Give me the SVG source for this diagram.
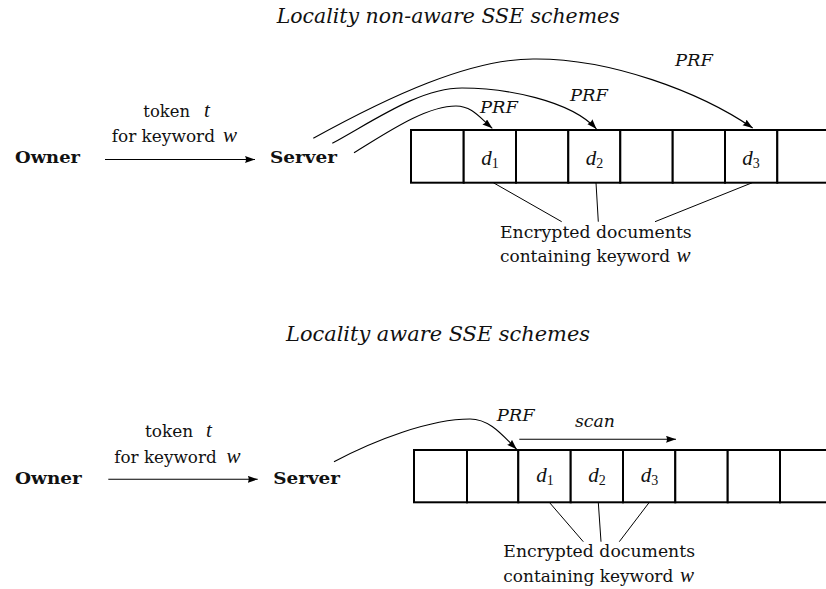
<svg xmlns="http://www.w3.org/2000/svg" width="826" height="589" viewBox="0 0 826 589">
<style>
.txt{font-family:"DejaVu Serif","Liberation Serif",serif;font-size:17px;fill:#111}
.bold{font-family:"DejaVu Serif","Liberation Serif",serif;font-size:17px;font-weight:bold;fill:#111}
.ital{font-family:"DejaVu Serif","Liberation Serif",serif;font-size:17px;font-style:italic;fill:#111}
.head{font-family:"DejaVu Serif","Liberation Serif",serif;font-size:19.5px;font-style:italic;fill:#111}
.math{font-family:"Liberation Serif","DejaVu Serif",serif;font-size:21px;font-style:italic;fill:#111}
.sub{font-family:"Liberation Serif","DejaVu Serif",serif;font-size:14px;font-style:normal}
.cell{fill:#fff;stroke:#000;stroke-width:2}
.thin{fill:none;stroke:#000;stroke-width:1}
.arr{fill:none;stroke:#000;stroke-width:1.1;marker-end:url(#ah)}
</style>
<defs>
<marker id="ah" markerUnits="userSpaceOnUse" markerWidth="11" markerHeight="8" refX="10" refY="3.5" orient="auto">
<path d="M0,0 L10,3.5 L0,7 Q2,3.5 0,0 z" fill="#000"/>
</marker>
</defs>
<rect width="826" height="589" fill="#fff"/>

<!-- Top section -->
<text class="head" x="276.7" y="23" textLength="343" lengthAdjust="spacingAndGlyphs">Locality non-aware SSE schemes</text>

<g id="owner1"><text class="bold" x="15" y="163" textLength="65" lengthAdjust="spacingAndGlyphs">Owner</text></g>
<g id="server1"><text class="bold" x="270" y="163" textLength="67" lengthAdjust="spacingAndGlyphs">Server</text></g>

<g id="array1">
<rect class="cell" x="411" y="130" width="52.7" height="52.7"/>
<rect class="cell" x="463.7" y="130" width="52.3" height="52.7"/>
<rect class="cell" x="516" y="130" width="52.3" height="52.7"/>
<rect class="cell" x="568.3" y="130" width="52" height="52.7"/>
<rect class="cell" x="620.3" y="130" width="52.4" height="52.7"/>
<rect class="cell" x="672.7" y="130" width="52.3" height="52.7"/>
<rect class="cell" x="725" y="130" width="52.3" height="52.7"/>
<rect class="cell" x="777.3" y="130" width="52.3" height="52.7"/>
<text class="math" x="490" y="165" text-anchor="middle">d<tspan class="sub" dy="3">1</tspan></text>
<text class="math" x="594.5" y="165" text-anchor="middle">d<tspan class="sub" dy="3">2</tspan></text>
<text class="math" x="751" y="165" text-anchor="middle">d<tspan class="sub" dy="3">3</tspan></text>
</g>

<g id="label1">
<text class="txt" x="500" y="238.3" textLength="191.7" lengthAdjust="spacingAndGlyphs">Encrypted documents</text>
<text class="txt" x="500" y="261.7" textLength="170" lengthAdjust="spacingAndGlyphs">containing keyword</text>
<text class="math" x="676.5" y="261.7">w</text>
</g>

<g id="token1">
<text class="txt" x="143.3" y="116.7" textLength="46.7" lengthAdjust="spacingAndGlyphs">token</text>
<text class="math" x="204" y="116.7">t</text>
<text class="txt" x="111.7" y="141.7" textLength="103.3" lengthAdjust="spacingAndGlyphs">for keyword</text>
<text class="math" x="223" y="141.7">w</text>
</g>

<g id="connectors1">
<line class="arr" x1="105" y1="159.5" x2="255" y2="159.5"/>
<path class="arr" d="M354,152.7 C385,134 425,106 456,106 C472,106 480,118 492.3,128.3"/>
<path class="arr" d="M332.3,143.3 C375,120 420,88 462,88 C505,88 570,100 596.5,129"/>
<path class="arr" d="M313.3,138.3 C390,96 470,59 533,59 C610,58 700,92 752.7,128"/>
<line class="thin" x1="493.3" y1="182.7" x2="561.7" y2="221.7"/>
<line class="thin" x1="596" y1="182.7" x2="598.3" y2="221.7"/>
<line class="thin" x1="752.3" y1="182.7" x2="655" y2="221.7"/>
<text class="ital" x="480" y="113.3" textLength="38" lengthAdjust="spacingAndGlyphs">PRF</text>
<text class="ital" x="570" y="101" textLength="38" lengthAdjust="spacingAndGlyphs">PRF</text>
<text class="ital" x="675" y="66" textLength="38" lengthAdjust="spacingAndGlyphs">PRF</text>
</g>

<!-- Bottom section -->
<text class="head" x="286" y="341" textLength="304" lengthAdjust="spacingAndGlyphs">Locality aware SSE schemes</text>

<g id="owner2"><text class="bold" x="15" y="484" textLength="66.7" lengthAdjust="spacingAndGlyphs">Owner</text></g>
<g id="server2"><text class="bold" x="273.3" y="484" textLength="66.7" lengthAdjust="spacingAndGlyphs">Server</text></g>

<g id="array2">
<rect class="cell" x="414" y="450" width="53" height="52.3"/>
<rect class="cell" x="467" y="450" width="51.3" height="52.3"/>
<rect class="cell" x="518.3" y="450" width="52.4" height="52.3"/>
<rect class="cell" x="570.7" y="450" width="52.3" height="52.3"/>
<rect class="cell" x="623" y="450" width="52.3" height="52.3"/>
<rect class="cell" x="675.3" y="450" width="52.4" height="52.3"/>
<rect class="cell" x="727.7" y="450" width="52.3" height="52.3"/>
<rect class="cell" x="780" y="450" width="52.3" height="52.3"/>
<text class="math" x="545" y="482" text-anchor="middle">d<tspan class="sub" dy="3">1</tspan></text>
<text class="math" x="597" y="482" text-anchor="middle">d<tspan class="sub" dy="3">2</tspan></text>
<text class="math" x="649.5" y="482" text-anchor="middle">d<tspan class="sub" dy="3">3</tspan></text>
</g>

<g id="label2">
<text class="txt" x="503.3" y="556.7" textLength="191.7" lengthAdjust="spacingAndGlyphs">Encrypted documents</text>
<text class="txt" x="503.3" y="581.7" textLength="170" lengthAdjust="spacingAndGlyphs">containing keyword</text>
<text class="math" x="680" y="581.7">w</text>
</g>

<g id="token2">
<text class="txt" x="145" y="437" textLength="48.3" lengthAdjust="spacingAndGlyphs">token</text>
<text class="math" x="206" y="437">t</text>
<text class="txt" x="114.3" y="462.5" textLength="102.4" lengthAdjust="spacingAndGlyphs">for keyword</text>
<text class="math" x="226.5" y="462.5">w</text>
</g>

<g id="connectors2">
<line class="arr" x1="108.3" y1="479.3" x2="257.7" y2="479.3"/>
<path class="arr" d="M334,461.7 C375,440 430,419 470,419 C490,419 503,436 516.7,449.3"/>
<line class="arr" x1="519.3" y1="439.3" x2="676" y2="439.3"/>
<line class="thin" x1="549.3" y1="502.3" x2="583.3" y2="541.7"/>
<line class="thin" x1="598.3" y1="502.3" x2="601" y2="541.7"/>
<line class="thin" x1="649.3" y1="502.3" x2="619.3" y2="541.7"/>
<text class="ital" x="496.7" y="421" textLength="38" lengthAdjust="spacingAndGlyphs">PRF</text>
<text class="ital" x="575" y="426.7" textLength="40" lengthAdjust="spacingAndGlyphs">scan</text>
</g>
</svg>
